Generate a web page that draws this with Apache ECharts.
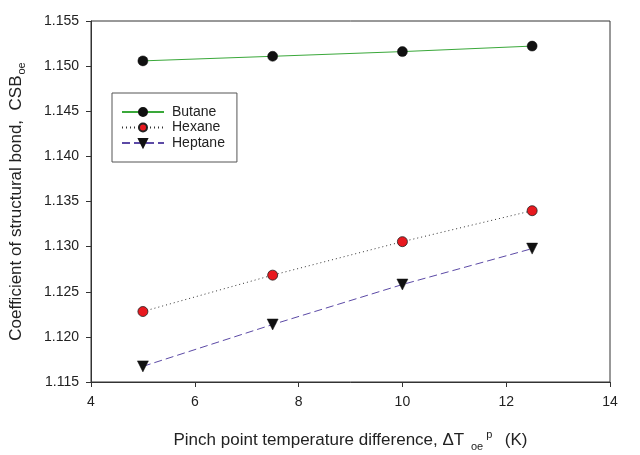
<!DOCTYPE html>
<html>
<head>
<meta charset="utf-8">
<script src="https://cdn.jsdelivr.net/npm/echarts@6/dist/echarts.min.js"></script>
<style>
  html, body { margin: 0; padding: 0; background: #fff; }
  #chart { width: 640px; height: 455px; }
</style>
</head>
<body>
<div id="chart"></div>
<script>
// x values (pinch point temperature difference, K)
var xValues = [5, 7.5, 10, 12.5];
// CSB_oe for each working fluid
var butane = [1.15058, 1.15109, 1.15161, 1.15222];
var hexane = [1.12281, 1.12684, 1.13055, 1.13398];
var heptane = [1.11673, 1.12137, 1.12580, 1.12978];
var seriesNames = ['Butane', 'Hexane', 'Heptane'];

function pairs(ys) {
  return xValues.map(function (x, i) { return [x, ys[i]]; });
}

var font = 'Liberation Sans, Arial, sans-serif';
var myChart = echarts.init(document.getElementById('chart'));

var option = {
  backgroundColor: '#fff',
  animation: false,
  textStyle: { fontFamily: font, color: '#222' },
  grid: {
    left: 91, right: 30, top: 21, bottom: 73,
    outerBoundsMode: 'none',
    containLabel: false,
    show: true, borderColor: '#333', borderWidth: 1
  },
  legend: {
    orient: 'vertical',
    left: 112, top: 93,
    data: seriesNames,
    itemWidth: 42, itemHeight: 10, itemGap: 1.5,
    padding: [12, 12, 12, 9],
    borderColor: '#555', borderWidth: 1,
    textStyle: { fontSize: 14, color: '#222', fontFamily: font, padding: [0, 0, 0, 3] }
  },
  xAxis: {
    type: 'value',
    min: 4, max: 14, interval: 2,
    name: '{m|Pinch point temperature difference, \u0394T }{sub|oe}{sup| p}{m|  (K)}',
    nameLocation: 'middle',
    nameGap: 46,
    nameTextStyle: {
      rich: {
        m: { fontSize: 17, color: '#222', fontFamily: font },
        sub: { fontSize: 11, color: '#222', fontFamily: font, padding: [13, 0, 0, 2] },
        sup: { fontSize: 11, color: '#222', fontFamily: font, padding: [0, 3, 11, 0] }
      }
    },
    axisLine: { lineStyle: { color: '#333', width: 1 } },
    axisTick: { inside: false, length: 5, lineStyle: { color: '#333' } },
    axisLabel: { fontSize: 14, color: '#222', margin: 13 },
    splitLine: { show: false }
  },
  yAxis: {
    type: 'value',
    min: 1.115, max: 1.155, interval: 0.005,
    name: '{m|Coefficient of structural bond,  CSB}{sub|oe}',
    nameLocation: 'middle',
    nameRotate: 90,
    nameGap: 64,
    nameTextStyle: {
      rich: {
        m: { fontSize: 17, color: '#222', fontFamily: font },
        sub: { fontSize: 11, color: '#222', fontFamily: font, padding: [11, 0, 0, 1] }
      }
    },
    axisLine: { lineStyle: { color: '#333', width: 1 } },
    axisTick: { inside: false, length: 5, lineStyle: { color: '#333' } },
    axisLabel: {
      fontSize: 14, color: '#222', margin: 12,
      formatter: function (v) { return v.toFixed(3); }
    },
    splitLine: { show: false }
  },
  series: [
    {
      name: 'Butane', type: 'line', data: pairs(butane),
      symbol: 'circle', symbolSize: 10,
      lineStyle: { color: '#3aa83a', width: 1, type: 'solid' },
      itemStyle: { color: '#111', borderColor: '#111', borderWidth: 0.5 }
    },
    {
      name: 'Hexane', type: 'line', data: pairs(hexane),
      symbol: 'circle', symbolSize: 10,
      lineStyle: { color: '#333', width: 1, type: [1, 3] },
      itemStyle: { color: '#e8191f', borderColor: '#222', borderWidth: 0.8 }
    },
    {
      name: 'Heptane', type: 'line', data: pairs(heptane),
      symbol: 'triangle', symbolRotate: 180, symbolSize: 11,
      lineStyle: { color: '#5c4aa6', width: 1, type: [8, 4] },
      itemStyle: { color: '#111', borderColor: '#111', borderWidth: 0.5 }
    }
  ]
};

myChart.setOption(option);
window.addEventListener('resize', function () {
  myChart.resize();
});
</script>
</body>
</html>
